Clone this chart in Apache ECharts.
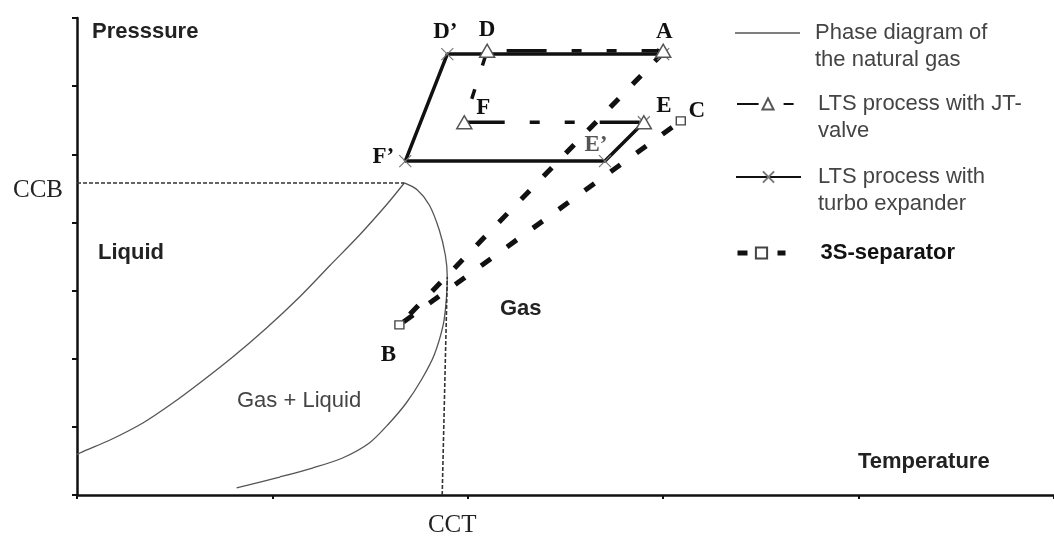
<!DOCTYPE html>
<html><head><meta charset="utf-8">
<script src="https://cdn.jsdelivr.net/npm/echarts@6/dist/echarts.min.js"></script>
<style>html,body{margin:0;padding:0;background:#fff}#c{width:1054px;height:542px}</style>
</head><body><div id="c"></div>
<script>
// ---- data (axis units: temperature 0..5, pressure 0..7) ----
const bubbleCurve = [[-0.051,0.514],[0.015,0.616],[0.169,0.807],[0.337,1.057],[0.490,1.350],[0.628,1.644],[0.797,2.025],[0.970,2.451],[1.139,2.906],[1.292,3.361],[1.446,3.816],[1.583,4.256],[1.675,4.579]];
const dewCurve = [[1.675,4.579],[1.742,4.476],[1.803,4.256],[1.854,3.889],[1.885,3.522],[1.895,3.199],[1.890,2.862],[1.874,2.495],[1.828,2.055],[1.762,1.688],[1.685,1.350],[1.599,1.057],[1.496,0.763],[1.359,0.543],[1.205,0.396],[1.037,0.264],[0.817,0.103]];
const ccbValue = 4.579;
const cctValue = 1.869;
const ccbLine = [[0,4.579],[1.675,4.579]];
const cctLine = [[1.869,0],[1.895,3.199]];
const turboPoints = [[3.000,6.47],[1.895,6.47],[1.680,4.90],[2.702,4.90],[2.901,5.47]];
const turboNames = ['A','D\u2019','F\u2019','E\u2019',''];
const jtPoints = [[3.000,6.52],[2.099,6.52],[1.982,5.47],[2.901,5.47]];
const jtNames = ['','D','F','E'];
const sepPoints = [[3.000,6.49],[1.650,2.495],[3.090,5.49]];
const sepNames = ['','B','C'];
const yTickLabels = ['CCB'];
const xTickLabels = ['CCT'];
const seriesNames = ['Phase diagram of the natural gas','LTS process with JT-valve','LTS process with turbo expander','3S-separator'];
const legendTexts = ['\nPhase diagram of\nthe natural gas','\nLTS process with JT-\nvalve','\nLTS process with\nturbo expander','3S-separator'];

// ---- layout / style ----
const labelOffsets = {'A':[1,-22],'D\u2019':[-2,-22],'F\u2019':[-22,-4],'E\u2019':[-9,-16],'D':[0,-21],'F':[19,-14],'E':[20,-16],'B':[-11,30],'C':[16,-10]};
const labelColors = {'E\u2019':'#555'};
function buildData(points, names, hideFirstSymbol){
  return points.map((p,i)=>{
    const it = {value:p};
    if (names[i]) it.label = {show:true, formatter:names[i], offset:labelOffsets[names[i]], color:labelColors[names[i]]||'#111'};
    if (hideFirstSymbol && i===0) it.symbol = 'none';
    return it;
  });
}
const ptLabel = {show:false, position:'inside', fontFamily:'Liberation Serif', fontWeight:'bold', fontSize:23, color:'#111'};
const phaseStyle = {color:'#555', width:1.3};
const dashStyle = {color:'#333', width:1.6, type:[4,2]};
const legendText = {fontFamily:'Liberation Sans', fontSize:22, color:'#444', lineHeight:27};

const chart = echarts.init(document.getElementById('c'));
chart.setOption({
  animation:false,
  backgroundColor:'#fff',
  grid:{left:77, top:18, width:979, height:477},
  xAxis:{type:'value', min:0, max:5, interval:1,
    name:'Temperature', nameLocation:'end', nameGap:-196,
    nameTextStyle:{fontFamily:'Liberation Sans', fontWeight:'bold', fontSize:22, color:'#222', align:'left', verticalAlign:'bottom', padding:[0,0,22,0]},
    axisLine:{lineStyle:{color:'#111', width:2.5}},
    axisTick:{show:true, length:4, lineStyle:{color:'#111', width:2}},
    splitLine:{show:false},
    axisLabel:{customValues:[cctValue], formatter:()=>xTickLabels[0], margin:18, fontFamily:'Liberation Serif', fontSize:25, color:'#222', padding:[0,0,0,20]}
  },
  yAxis:{type:'value', min:0, max:7, interval:1,
    name:'Presssure', nameLocation:'end', nameGap:-14,
    nameTextStyle:{fontFamily:'Liberation Sans', fontWeight:'bold', fontSize:22, color:'#222', align:'left', verticalAlign:'middle', padding:[0,0,0,15]},
    axisLine:{lineStyle:{color:'#111', width:2.5}},
    axisTick:{show:true, length:5, lineStyle:{color:'#111', width:2}},
    splitLine:{show:false},
    axisLabel:{customValues:[ccbValue], formatter:()=>yTickLabels[0], margin:14, fontFamily:'Liberation Serif', fontSize:25, color:'#222', verticalAlign:'top', lineHeight:14}
  },
  legend:[
    {data:[{name:seriesNames[0], icon:'rect'}], left:735, top:-7.5, padding:0, itemWidth:65, itemHeight:1.5, selectedMode:false,
      formatter:()=>legendTexts[0], textStyle:Object.assign({}, legendText, {padding:[0,0,0,10]})},
    {data:[seriesNames[1]], left:736, top:63.5, padding:0, itemWidth:62, itemHeight:14, selectedMode:false,
      formatter:()=>legendTexts[1], textStyle:Object.assign({}, legendText, {padding:[0,0,0,14]})},
    {data:[seriesNames[2]], left:735, top:136.5, padding:0, itemWidth:65, itemHeight:14, selectedMode:false,
      formatter:()=>legendTexts[2], textStyle:Object.assign({}, legendText, {padding:[0,0,0,12]})},
    {data:[seriesNames[3]], left:735, top:239.5, padding:0, itemWidth:48, itemHeight:14, selectedMode:false,
      lineStyle:{type:[10,30], dashOffset:0, width:5},
      formatter:()=>legendTexts[3], textStyle:Object.assign({}, legendText, {fontWeight:'bold', color:'#111', padding:[0,0,0,30]})}
  ],
  graphic:[
    {type:'text', x:98, y:253, style:{text:'Liquid', font:'bold 22px "Liberation Sans"', fill:'#222', verticalAlign:'middle'}},
    {type:'text', x:500, y:309, style:{text:'Gas', font:'bold 22px "Liberation Sans"', fill:'#222', verticalAlign:'middle'}},
    {type:'text', x:237, y:401, style:{text:'Gas + Liquid', font:'22px "Liberation Sans"', fill:'#444', verticalAlign:'middle'}}
  ],
  series:[
    {type:'line', name:seriesNames[0], data:bubbleCurve, smooth:0.3, symbol:'none', clip:false, lineStyle:phaseStyle, itemStyle:{color:'#555'}, z:2},
    {type:'line', name:seriesNames[0], data:dewCurve, smooth:0.3, symbol:'none', clip:false, lineStyle:phaseStyle, itemStyle:{color:'#555'}, z:2},
    {type:'line', name:seriesNames[0], data:ccbLine, symbol:'none', lineStyle:dashStyle, itemStyle:{color:'#333'}, z:2},
    {type:'line', name:seriesNames[0], data:cctLine, symbol:'none', lineStyle:dashStyle, itemStyle:{color:'#333'}, z:2},
    {type:'line', name:seriesNames[3], data:buildData(sepPoints, sepNames, true), symbol:'rect', symbolSize:[9,8],
      itemStyle:{color:'#fff', borderColor:'#444', borderWidth:1.3}, lineStyle:{color:'#111', width:5, type:[12,20]}, label:ptLabel, z:3},
    {type:'line', name:seriesNames[2], data:buildData(turboPoints, turboNames, false), symbol:'path://M0,0L10,10M10,0L0,10', symbolSize:12,
      itemStyle:{color:'rgba(0,0,0,0)', borderColor:'#777', borderWidth:1.2}, lineStyle:{color:'#111', width:3.5}, label:ptLabel, z:4},
    {type:'line', name:seriesNames[1], data:buildData(jtPoints, jtNames, false), symbol:'triangle', symbolSize:[15,13],
      itemStyle:{color:'#fff', borderColor:'#555', borderWidth:1.5}, lineStyle:{color:'#111', width:3.5, type:[40,25,10,25,10,25], dashOffset:18.4}, label:ptLabel, z:5}
  ]
});
</script></body></html>
